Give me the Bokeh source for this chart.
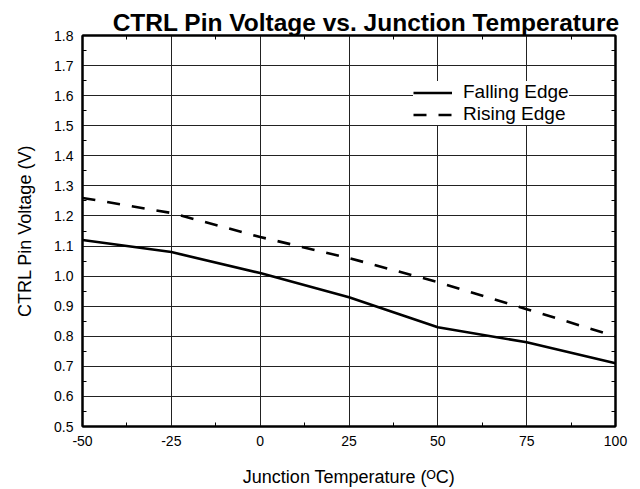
from bokeh.plotting import figure
from bokeh.models import (FixedTicker, Range1d, LinearAxis, Legend, LegendItem,
                          NumeralTickFormatter, CustomJSTickFormatter)
from bokeh.embed import file_html
from bokeh.resources import INLINE

# ---- data ----
temps = [-50, -25, 0, 25, 50, 75, 100]
falling = [1.12, 1.08, 1.01, 0.93, 0.83, 0.78, 0.71]
rising = [1.26, 1.21, 1.13, 1.06, 0.98, 0.89, 0.80]

x_ticks = [-50, -25, 0, 25, 50, 75, 100]
y_ticks = [0.5, 0.6, 0.7, 0.8, 0.9, 1.0, 1.1, 1.2, 1.3, 1.4, 1.5, 1.6, 1.7, 1.8]

title_text = "CTRL Pin Voltage vs. Junction Temperature"
x_label = "Junction Temperature (\u1d3cC)"
y_label = "CTRL Pin Voltage (V)"
series_names = ["Falling Edge", "Rising Edge"]

FONT = "Liberation Sans"

x_minor = [(a + b) / 2 for a, b in zip(x_ticks[:-1], x_ticks[1:])]
y_minor = [round((a + b) / 2, 3) for a, b in zip(y_ticks[:-1], y_ticks[1:])]

p = figure(width=640, height=489, output_backend="svg", toolbar_location=None,
           x_range=Range1d(x_ticks[0], x_ticks[-1]), y_range=Range1d(y_ticks[0], y_ticks[-1]),
           min_border_left=82, min_border_right=25, min_border_top=35, min_border_bottom=63)
p.background_fill_color = "white"
p.border_fill_color = "white"
p.outline_line_color = "black"
p.outline_line_width = 2

p.title.text = title_text
p.title.align = "right"
p.title.text_font = FONT
p.title.text_font_size = "24.5px"
p.title.text_font_style = "bold"
p.title.text_color = "black"
p.title.standoff = 0
p.title.offset = -4

xt = FixedTicker(ticks=x_ticks, minor_ticks=x_minor)
yt = FixedTicker(ticks=y_ticks, minor_ticks=y_minor)

for ax in (p.xaxis[0], p.yaxis[0]):
    ax.axis_line_color = "black"
    ax.axis_line_width = 2
    ax.major_tick_in = 0
    ax.major_tick_out = 0
    ax.minor_tick_in = 4
    ax.minor_tick_out = 0
    ax.minor_tick_line_color = "black"
    ax.major_label_text_font = FONT
    ax.major_label_text_font_size = "14px"
    ax.major_label_text_color = "black"
    ax.axis_label_text_font = FONT
    ax.axis_label_text_font_size = "18px"
    ax.axis_label_text_font_style = "normal"
    ax.axis_label_text_color = "black"

p.xaxis[0].ticker = xt
p.yaxis[0].ticker = yt
p.xaxis[0].formatter = NumeralTickFormatter(format="0")
p.yaxis[0].formatter = NumeralTickFormatter(format="0.0")
p.xaxis[0].major_label_standoff = 9
p.yaxis[0].major_label_standoff = 9
p.yaxis[0].axis_label = y_label
p.yaxis[0].axis_label_standoff = 16
p.xaxis[0].axis_label = x_label
p.xaxis[0].axis_label_standoff = 18
p.xaxis[0].axis_label_text_line_height = 0.9

blank = CustomJSTickFormatter(code="return ''")
top_ax = LinearAxis(ticker=FixedTicker(ticks=x_ticks, minor_ticks=x_minor), formatter=blank)
right_ax = LinearAxis(ticker=FixedTicker(ticks=y_ticks, minor_ticks=y_minor), formatter=blank)
for ax in (top_ax, right_ax):
    ax.axis_line_color = "black"
    ax.axis_line_width = 2
    ax.major_tick_in = 0
    ax.major_tick_out = 0
    ax.minor_tick_in = 4
    ax.minor_tick_out = 0
    ax.major_label_standoff = 0
    ax.major_label_text_font_size = "1px"
p.add_layout(top_ax, "above")
p.add_layout(right_ax, "right")

p.xgrid.ticker = xt
p.ygrid.ticker = yt
for g in (p.xgrid[0], p.ygrid[0]):
    g.grid_line_color = "#222222"
    g.grid_line_width = 1

r1 = p.line(temps, falling, line_color="black", line_width=2.6)
r2 = p.line(temps, rising, line_color="black", line_width=2.6, line_dash="13 12")

legend = Legend(items=[LegendItem(label=series_names[0], renderers=[r1]),
                       LegendItem(label=series_names[1], renderers=[r2])],
                location=(331, 301))
legend.label_text_font = FONT
legend.label_text_font_size = "19px"
legend.label_text_color = "black"
legend.glyph_width = 39
legend.glyph_height = 21
legend.label_height = 21
legend.label_standoff = 11
legend.padding = 5
legend.spacing = 0
legend.margin = 0
legend.border_line_color = None
legend.background_fill_color = "white"
legend.background_fill_alpha = 1.0
p.add_layout(legend, "center")

open("out.html", "w").write(file_html(p, INLINE))
